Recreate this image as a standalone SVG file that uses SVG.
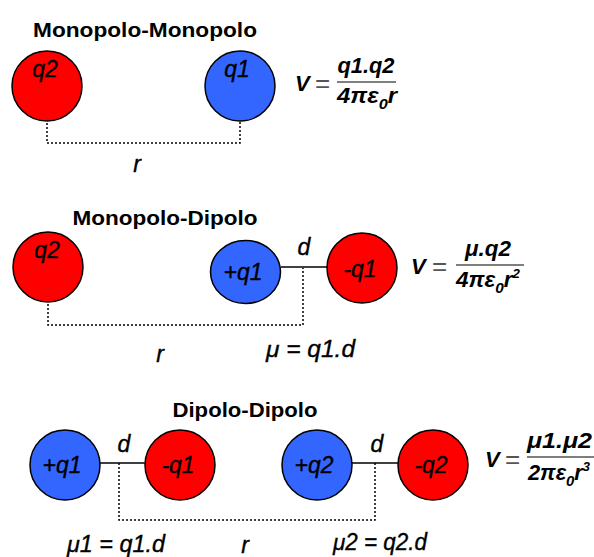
<svg xmlns="http://www.w3.org/2000/svg" width="594" height="557" viewBox="0 0 594 557">
<style>
.title{font-family:"Liberation Sans",Arial,sans-serif;font-weight:bold;font-size:21px;fill:#000;text-anchor:middle}
.lbl{font-family:"Liberation Sans",Arial,sans-serif;font-style:italic;font-size:23px;fill:#000;stroke:#000;stroke-width:0.35;text-anchor:middle}
.it{font-family:"Liberation Sans",Arial,sans-serif;font-style:italic;font-size:23px;fill:#000;stroke:#000;stroke-width:0.35}
.fx{font-family:"Liberation Sans",Arial,sans-serif;font-style:italic;font-weight:bold;font-size:22px;fill:#000}
.eq{font-family:"Liberation Sans",Arial,sans-serif;font-size:26px;fill:#555}
.red{fill:#FF0000;stroke:#000;stroke-width:1.5}
.blue{fill:#3366FF;stroke:#000;stroke-width:1.5}
.dot{fill:none;stroke:#000;stroke-width:1.5;stroke-dasharray:2 2}
.bond{fill:none;stroke:#000;stroke-width:1.5}
.frac{stroke:#555;stroke-width:1.5}
.sub{font-size:15px}
.sup{font-size:13px}
</style>

<text class="title" x="145" y="37" textLength="224" lengthAdjust="spacingAndGlyphs">Monopolo-Monopolo</text>
<text class="title" x="165" y="225" textLength="185" lengthAdjust="spacingAndGlyphs">Monopolo-Dipolo</text>
<text class="title" x="245" y="417" textLength="145" lengthAdjust="spacingAndGlyphs">Dipolo-Dipolo</text>

<g id="connectors">
  <path class="dot" d="M47 87 V143 H240 V87"/>
  <path class="dot" d="M48 268 V325 H303 V268"/>
  <path class="bond" d="M281 267 H327"/>
  <path class="dot" d="M119 463 V520 H375 V463"/>
  <path class="bond" d="M100 463 H145"/>
  <path class="bond" d="M352 463 H398"/>
</g>

<g id="s1-q2"><circle class="red" cx="47" cy="86" r="35"/><text class="lbl" x="45" y="77">q2</text></g>
<g id="s1-q1"><circle class="blue" cx="240" cy="86" r="35"/><text class="lbl" x="237" y="77">q1</text></g>

<g id="s2-q2"><circle class="red" cx="48" cy="267" r="35"/><text class="lbl" x="47" y="258">q2</text></g>
<g id="s2-pq1"><ellipse class="blue" cx="245.5" cy="272" rx="35" ry="31.5"/><text class="lbl" x="243" y="280">+q1</text></g>
<g id="s2-mq1"><circle class="red" cx="362" cy="268" r="35"/><text class="lbl" x="360" y="277">-q1</text></g>

<g id="s3-pq1"><circle class="blue" cx="65" cy="465" r="35"/><text class="lbl" x="62" y="473">+q1</text></g>
<g id="s3-mq1"><circle class="red" cx="180" cy="465" r="35"/><text class="lbl" x="178" y="473">-q1</text></g>
<g id="s3-pq2"><circle class="blue" cx="317" cy="465" r="35"/><text class="lbl" x="314" y="473">+q2</text></g>
<g id="s3-mq2"><circle class="red" cx="433" cy="465" r="35"/><text class="lbl" x="431" y="473">-q2</text></g>

<g id="labels">
  <text class="lbl" x="137" y="172">r</text>
  <text class="lbl" x="304" y="255">d</text>
  <text class="lbl" x="160" y="362">r</text>
  <text class="it" x="266" y="357" textLength="89" lengthAdjust="spacingAndGlyphs">μ = q1.d</text>
  <text class="lbl" x="124" y="452">d</text>
  <text class="lbl" x="377" y="452">d</text>
  <text class="it" x="67" y="552" textLength="98" lengthAdjust="spacingAndGlyphs">μ1 = q1.d</text>
  <text class="lbl" x="245" y="553">r</text>
  <text class="it" x="333" y="550" textLength="94" lengthAdjust="spacingAndGlyphs">μ2 = q2.d</text>
</g>

<g id="formula1">
  <text class="fx" x="295" y="91" font-size="24">V</text>
  <text class="eq" x="315" y="92">=</text>
  <text class="fx" x="366" y="73" text-anchor="middle" textLength="57" lengthAdjust="spacingAndGlyphs">q1.q2</text>
  <line class="frac" x1="337" y1="82" x2="396" y2="82"/>
  <text class="fx" x="337" y="103" textLength="60" lengthAdjust="spacingAndGlyphs">4πε<tspan class="sub" dy="6">0</tspan><tspan dy="-6">r</tspan></text>
</g>

<g id="formula2">
  <text class="fx" x="411" y="274" font-size="24">V</text>
  <text class="eq" x="432" y="275">=</text>
  <text class="fx" x="488" y="256" text-anchor="middle" textLength="46" lengthAdjust="spacingAndGlyphs">μ.q2</text>
  <line class="frac" x1="456" y1="265" x2="524" y2="265"/>
  <text class="fx" x="456" y="287" textLength="64" lengthAdjust="spacingAndGlyphs">4πε<tspan class="sub" dy="6">0</tspan><tspan dy="-6">r</tspan><tspan class="sup" dy="-9">2</tspan></text>
</g>

<g id="formula3">
  <text class="fx" x="485" y="467" font-size="24">V</text>
  <text class="eq" x="505" y="468">=</text>
  <text class="fx" x="527" y="448" textLength="65" lengthAdjust="spacingAndGlyphs">μ1.μ2</text>
  <line class="frac" x1="527" y1="457" x2="594" y2="457"/>
  <text class="fx" x="528" y="480" textLength="62" lengthAdjust="spacingAndGlyphs">2πε<tspan class="sub" dy="6">0</tspan><tspan dy="-6">r</tspan><tspan class="sup" dy="-9">3</tspan></text>
</g>
</svg>
